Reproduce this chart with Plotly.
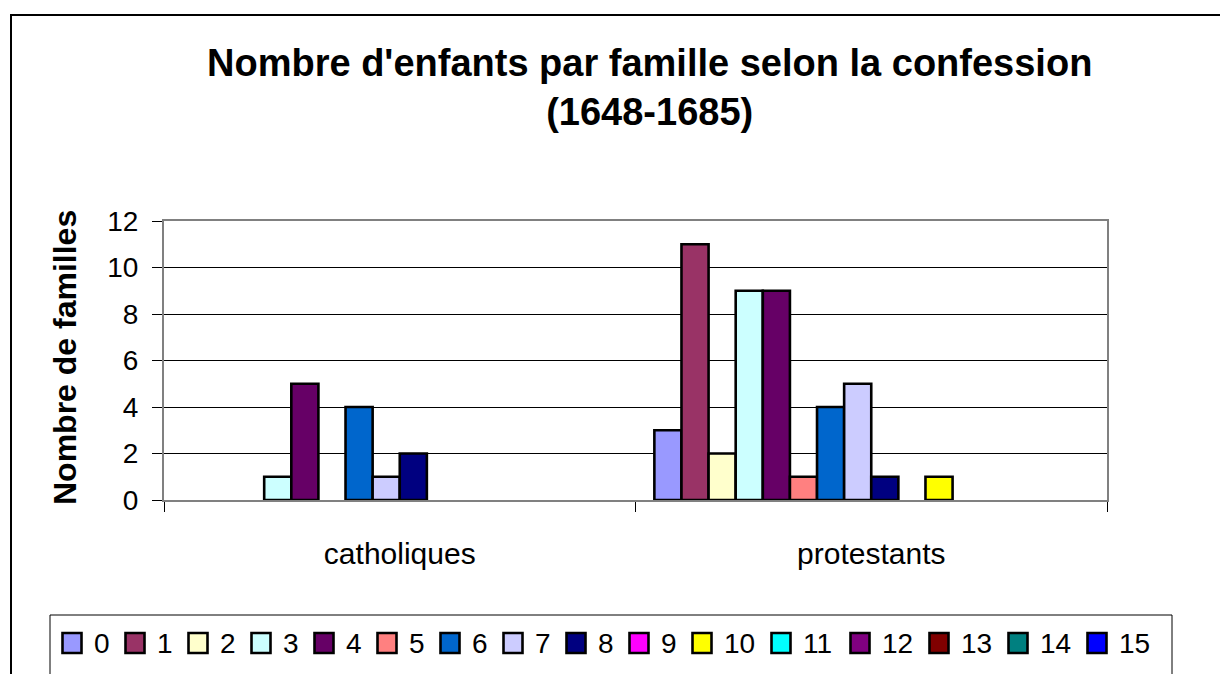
import plotly.graph_objects as go

# Familles par confession, ventilées selon le nombre d'enfants (0 à 15)
categories = ["catholiques", "protestants"]
child_counts = [str(n) for n in range(16)]
catholiques = [0, 0, 0, 1, 5, 0, 4, 1, 2, 0, 0, 0, 0, 0, 0, 0]
protestants = [3, 11, 2, 9, 9, 1, 4, 5, 1, 0, 1, 0, 0, 0, 0, 0]
colors = ["#9999FF", "#993366", "#FFFFCC", "#CCFFFF", "#660066", "#FF8080",
          "#0066CC", "#CCCCFF", "#000080", "#FF00FF", "#FFFF00", "#00FFFF",
          "#800080", "#800000", "#008080", "#0000FF"]
y_ticks = [0, 2, 4, 6, 8, 10, 12]

FONT = "Liberation Sans, Arial, sans-serif"

# plot area in pixels
L, R, T, B = 164, 1107, 221, 500
W, H = 1220, 674
pw, ph = R - L, B - T


def px_x(x):
    return (x - L) / pw


def px_y(y):
    return 1 - (y - T) / ph


fig = go.Figure()
for i, label in enumerate(child_counts):
    vals = [catholiques[i], protestants[i]]
    fig.add_trace(go.Bar(
        x=categories, y=vals, name=label, showlegend=False,
        marker=dict(color=colors[i],
                    line=dict(color="#000000",
                              width=[2.6 if v > 0 else 0 for v in vals])),
    ))

fig.update_layout(
    width=W, height=H,
    margin=dict(l=L, r=W - R, t=T, b=H - B),
    paper_bgcolor="white", plot_bgcolor="white",
    barmode="group", bargap=0.08, bargroupgap=0,
    font=dict(family=FONT, size=28, color="#000000"),
    showlegend=False,
    xaxis=dict(type="category", tickson="boundaries", ticks="outside",
               ticklen=10, tickcolor="#000000", tickwidth=1,
               showline=True, linecolor="#808080", linewidth=2, mirror=True,
               showgrid=False, ticklabelstandoff=26,
               tickfont=dict(size=30)),
    yaxis=dict(range=[0, 12], tickvals=y_ticks, ticks="outside",
               ticklen=10, tickcolor="#000000", tickwidth=1,
               showline=True, linecolor="#808080", linewidth=2, mirror=True,
               showgrid=True, gridcolor="#000000", gridwidth=1,
               zeroline=False, ticklabelstandoff=8,
               tickfont=dict(size=28)),
)

fig.add_annotation(
    text="<b>Nombre d'enfants par famille selon la confession</b><br><b>(1648-1685)</b>",
    xref="paper", yref="paper", x=px_x(649), y=px_y(87),
    xanchor="center", yanchor="middle", showarrow=False,
    font=dict(family=FONT, size=38, color="#000000"),
)
fig.add_annotation(
    text="<b>Nombre de familles</b>",
    xref="paper", yref="paper", x=px_x(65), y=px_y(358),
    xanchor="center", yanchor="middle", textangle=-90, showarrow=False,
    font=dict(family=FONT, size=32, color="#000000"),
)

# outer chart frame and legend box
fig.add_shape(type="rect", xref="paper", yref="paper",
              x0=px_x(11), x1=px_x(1240), y0=px_y(700), y1=px_y(15),
              line=dict(color="#000000", width=2), layer="below")
fig.add_shape(type="rect", xref="paper", yref="paper",
              x0=px_x(50), x1=px_x(1172), y0=px_y(700), y1=px_y(615),
              line=dict(color="#000000", width=1), layer="below")

# legend row: swatch + label, item width grows with label length
cursor = 62.5
row_mid = 643
for i, label in enumerate(child_counts):
    fig.add_shape(type="rect", xref="paper", yref="paper",
                  x0=px_x(cursor), x1=px_x(cursor + 19),
                  y0=px_y(row_mid + 10), y1=px_y(row_mid - 10),
                  fillcolor=colors[i], line=dict(color="#000000", width=2.6))
    fig.add_annotation(
        text=label, xref="paper", yref="paper",
        x=px_x(cursor + 29), y=px_y(row_mid), xanchor="left", yanchor="middle",
        showarrow=False, font=dict(family=FONT, size=28, color="#000000"),
    )
    cursor += 47 + 16 * len(label)

fig.write_html("out.html")
